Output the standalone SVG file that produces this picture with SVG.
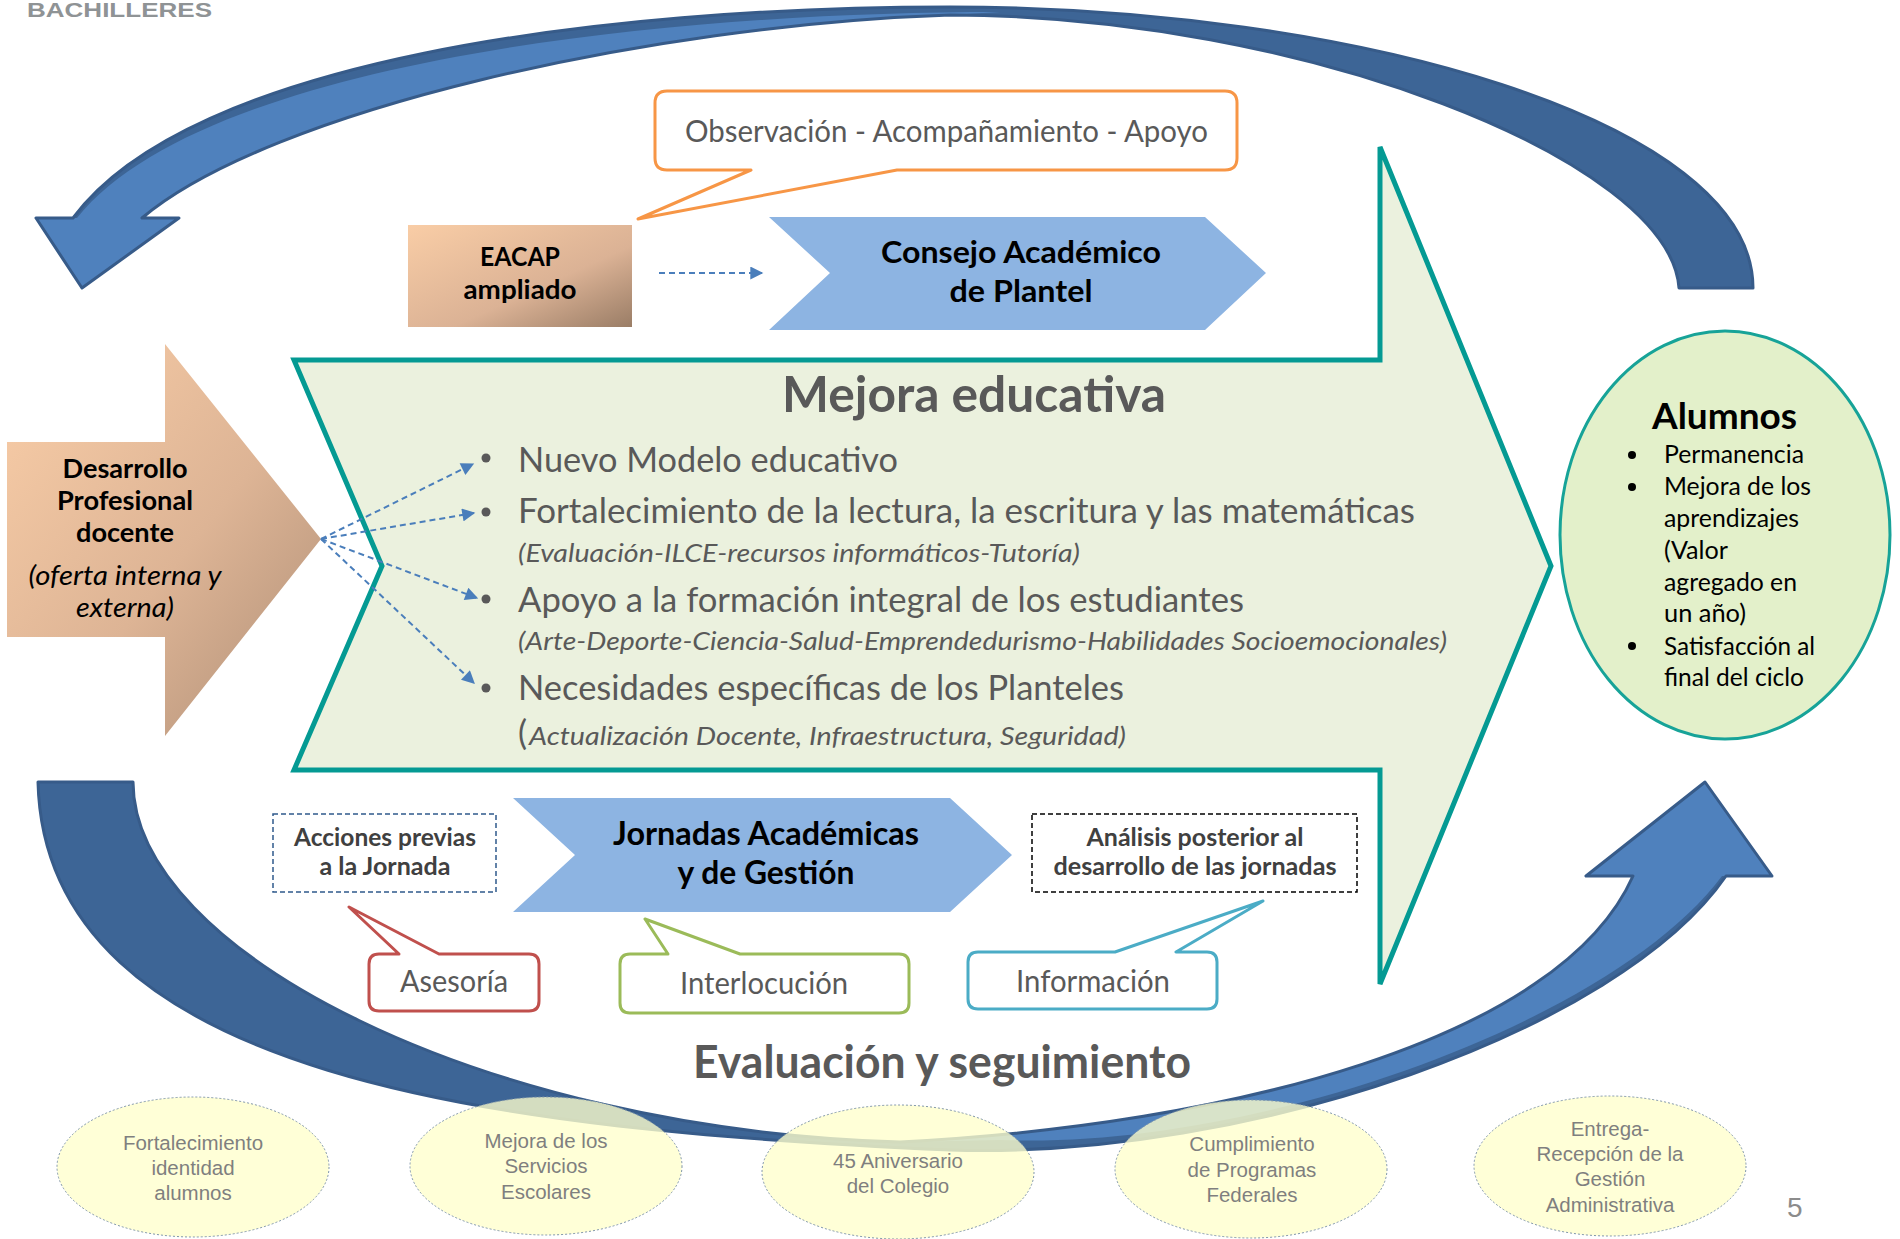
<svg xmlns="http://www.w3.org/2000/svg" width="1900" height="1239" viewBox="0 0 1900 1239">
<defs>
<linearGradient id="gPeach" x1="0" y1="0" x2="1" y2="1">
<stop offset="0" stop-color="#FACEA8"/><stop offset="0.55" stop-color="#DDB495"/><stop offset="1" stop-color="#AE8E76"/>
</linearGradient>
<linearGradient id="gEacap" x1="0" y1="0" x2="1" y2="1">
<stop offset="0" stop-color="#F9CDA6"/><stop offset="0.6" stop-color="#DBB295"/><stop offset="1" stop-color="#9A7D66"/>
</linearGradient>
<marker id="ah" viewBox="0 0 10 10" refX="9" refY="5" markerUnits="userSpaceOnUse" markerWidth="14" markerHeight="13" orient="auto"><path d="M0,0 L10,5 L0,10 Z" fill="#4A7EBB"/></marker>
<style>
.cal{font-family:Lato,'Open Sans','Liberation Sans',sans-serif}
.b{font-weight:bold}
.it{font-style:italic}
.g{fill:#595959}
.k{fill:#000}
.dg{fill:#404040}
.mid{text-anchor:middle}
.ell{fill:#FFFFCC;fill-opacity:0.78;stroke:#8096AA;stroke-width:1;stroke-dasharray:2 2}
.et{font-family:'Liberation Sans',Arial,sans-serif;font-size:20.5px;fill:#7F7F7F;text-anchor:middle}
.call{fill:#fff;stroke-width:3;stroke-linejoin:round}
.dash{fill:none;stroke:#4A7EBB;stroke-width:2;stroke-dasharray:6 4}
.chev{fill:#8DB4E2}
.dk{fill:#3D6596;stroke:none}
.lt{fill:#4F81BD;stroke:none}
.ol{fill:none;stroke:#375B89;stroke-width:3;stroke-linejoin:round}
</style>
</defs>
<rect width="1900" height="1239" fill="#fff"/>

<text x="27" y="17" font-family="'Liberation Sans',Arial,sans-serif" font-weight="bold" font-size="21" fill="#8F9395" textLength="185" lengthAdjust="spacingAndGlyphs">BACHILLERES</text>

<g id="arc-top">
<path class="dk" d="M73,218 C190,60 600,7 950,7 C1350,7 1753,120 1753,288 L1679,288 C1670,160 1300,15 950,15 C650,25 270,110 142,218 L179,218 L82,288 L36,218 Z"/>
<path class="lt" d="M142,218 L179,218 L82,288 L36,218 L77,218 C200,64 650,12 1000,12 L950,15 C650,25 270,110 142,218 Z"/>
<path class="ol" d="M73,218 C190,60 600,7 950,7 C1350,7 1753,120 1753,288 L1679,288 C1670,160 1300,15 950,15 C650,25 270,110 142,218 L179,218 L82,288 L36,218 Z"/>
</g>

<g id="arc-bottom">
<path class="dk" d="M133,782 L38,782 C45,1080 500,1130 950,1150 C1250,1160 1620,1030 1726,876 L1772,876 L1705,782 L1586,876 L1633,876 C1560,1040 1230,1125 900,1142 C480,1130 133,950 133,782 Z"/>
<path class="lt" d="M1633,876 L1586,876 L1705,782 L1772,876 L1722,876 C1615,1020 1260,1150 1000,1140 L900,1142 C1230,1125 1560,1040 1633,876 Z"/>
<path class="ol" d="M133,782 L38,782 C45,1080 500,1130 950,1150 C1250,1160 1620,1030 1726,876 L1772,876 L1705,782 L1586,876 L1633,876 C1560,1040 1230,1125 900,1142 C480,1130 133,950 133,782 Z"/>
</g>

<g id="mejora">
<polygon points="294,360 1380,360 1380,147 1551,566 1380,984 1380,770 294,770 382,566" fill="#EBF1DE" stroke="#049A93" stroke-width="5" stroke-linejoin="miter"/>
<text class="cal b g mid" x="974" y="412" font-size="50" textLength="384" lengthAdjust="spacingAndGlyphs">Mejora educativa</text>
<circle cx="486" cy="458" r="4.5" fill="#595959"/>
<circle cx="486" cy="512" r="4.5" fill="#595959"/>
<circle cx="486" cy="599" r="4.5" fill="#595959"/>
<circle cx="486" cy="688" r="4.5" fill="#595959"/>
<text class="cal g" x="518" y="472" font-size="34" textLength="380" lengthAdjust="spacingAndGlyphs">Nuevo Modelo educativo</text>
<text class="cal g" x="518" y="523" font-size="34" textLength="897" lengthAdjust="spacingAndGlyphs">Fortalecimiento de la lectura, la escritura y las matemáticas</text>
<text class="cal g it" x="518" y="562" font-size="25" textLength="562" lengthAdjust="spacingAndGlyphs">(Evaluación-ILCE-recursos informáticos-Tutoría)</text>
<text class="cal g" x="518" y="612" font-size="34" textLength="726" lengthAdjust="spacingAndGlyphs">Apoyo a la formación integral de los estudiantes</text>
<text class="cal g it" x="518" y="650" font-size="25" textLength="929" lengthAdjust="spacingAndGlyphs">(Arte-Deporte-Ciencia-Salud-Emprendedurismo-Habilidades Socioemocionales)</text>
<text class="cal g" x="518" y="700" font-size="34" textLength="606" lengthAdjust="spacingAndGlyphs">Necesidades específicas de los Planteles</text>
<text class="cal g" x="518" y="745" font-size="34">(</text>
<text class="cal g it" x="529" y="745" font-size="25" textLength="597" lengthAdjust="spacingAndGlyphs">Actualización Docente, Infraestructura, Seguridad)</text>
</g>

<g id="desarrollo">
<path d="M7,442 L165,442 L165,344 L321,539 L165,736 L165,637 L7,637 Z" fill="url(#gPeach)"/>
<text class="cal b k mid" x="125" y="478" font-size="27" textLength="125" lengthAdjust="spacingAndGlyphs">Desarrollo</text>
<text class="cal b k mid" x="125" y="510" font-size="27" textLength="136" lengthAdjust="spacingAndGlyphs">Profesional</text>
<text class="cal b k mid" x="125" y="542" font-size="27" textLength="98" lengthAdjust="spacingAndGlyphs">docente</text>
<text class="cal it k mid" x="125" y="585" font-size="27" textLength="193" lengthAdjust="spacingAndGlyphs">(oferta interna y</text>
<text class="cal it k mid" x="125" y="617" font-size="27" textLength="98" lengthAdjust="spacingAndGlyphs">externa)</text>
</g>

<g id="observacion">
<path class="call" stroke="#F79646" d="M667,91 H1225 Q1237,91 1237,103 V158 Q1237,170 1225,170 H897 L638,219 L751,170 H667 Q655,170 655,158 V103 Q655,91 667,91 Z"/>
<text class="cal g" x="685" y="142" font-size="31" textLength="523" lengthAdjust="spacingAndGlyphs">Observación - Acompañamiento - Apoyo</text>
</g>

<g id="eacap">
<rect x="408" y="225" width="224" height="102" fill="url(#gEacap)"/>
<text class="cal b k mid" x="520" y="266" font-size="26" textLength="80" lengthAdjust="spacingAndGlyphs">EACAP</text>
<text class="cal b k mid" x="520" y="299" font-size="26" textLength="113" lengthAdjust="spacingAndGlyphs">ampliado</text>
</g>

<g id="consejo">
<polygon class="chev" points="769,217 1205,217 1266,273 1205,330 769,330 830,273"/>
<text class="cal b k mid" x="1021" y="263" font-size="31" textLength="280" lengthAdjust="spacingAndGlyphs">Consejo Académico</text>
<text class="cal b k mid" x="1021" y="302" font-size="31" textLength="143" lengthAdjust="spacingAndGlyphs">de Plantel</text>
</g>

<g id="acciones">
<rect x="273" y="814" width="223" height="78" fill="#fff" stroke="#2F5A8C" stroke-width="1.5" stroke-dasharray="5 3"/>
<text class="cal b dg mid" x="385" y="846" font-size="24" textLength="182" lengthAdjust="spacingAndGlyphs">Acciones previas</text>
<text class="cal b dg mid" x="385" y="875" font-size="24" textLength="131" lengthAdjust="spacingAndGlyphs">a la Jornada</text>
</g>

<g id="jornadas">
<polygon class="chev" points="513,798 950,798 1012,855 950,912 513,912 575,855"/>
<text class="cal b k mid" x="766" y="845" font-size="32" textLength="306" lengthAdjust="spacingAndGlyphs">Jornadas Académicas</text>
<text class="cal b k mid" x="766" y="884" font-size="32" textLength="177" lengthAdjust="spacingAndGlyphs">y de Gestión</text>
</g>

<g id="analisis">
<rect x="1032" y="814" width="325" height="78" fill="#fff" stroke="#000" stroke-width="1.5" stroke-dasharray="5 3"/>
<text class="cal b dg mid" x="1195" y="846" font-size="24" textLength="217" lengthAdjust="spacingAndGlyphs">Análisis posterior al</text>
<text class="cal b dg mid" x="1195" y="875" font-size="24" textLength="283" lengthAdjust="spacingAndGlyphs">desarrollo de las jornadas</text>
</g>

<g id="asesoria">
<path class="call" stroke="#C0504D" d="M379,954 H399 L349,907 L439,954 H529 Q539,954 539,964 V1001 Q539,1011 529,1011 H379 Q369,1011 369,1001 V964 Q369,954 379,954 Z"/>
<text class="cal g mid" x="454" y="992" font-size="30" textLength="108" lengthAdjust="spacingAndGlyphs">Asesoría</text>
</g>

<g id="interlocucion">
<path class="call" stroke="#9BBB59" d="M630,954 H668 L645,919 L740,954 H899 Q909,954 909,964 V1003 Q909,1013 899,1013 H630 Q620,1013 620,1003 V964 Q620,954 630,954 Z"/>
<text class="cal g mid" x="764" y="994" font-size="30" textLength="168" lengthAdjust="spacingAndGlyphs">Interlocución</text>
</g>

<g id="informacion">
<path class="call" stroke="#4BACC6" d="M978,952 H1115 L1263,901 L1176,952 H1207 Q1217,952 1217,962 V999 Q1217,1009 1207,1009 H978 Q968,1009 968,999 V962 Q968,952 978,952 Z"/>
<text class="cal g mid" x="1093" y="992" font-size="30" textLength="154" lengthAdjust="spacingAndGlyphs">Información</text>
</g>

<g id="alumnos">
<ellipse cx="1725" cy="535" rx="165" ry="204" fill="#E3F0CA" stroke="#17A398" stroke-width="3"/>
<text class="cal b k" x="1652" y="429" font-size="36" textLength="145" lengthAdjust="spacingAndGlyphs">Alumnos</text>
<circle cx="1632" cy="455" r="4" fill="#000"/>
<circle cx="1632" cy="487" r="4" fill="#000"/>
<circle cx="1632" cy="646" r="4" fill="#000"/>
<text class="cal k" x="1664" y="463" font-size="25" textLength="140" lengthAdjust="spacingAndGlyphs">Permanencia</text>
<text class="cal k" x="1664" y="495" font-size="25" textLength="147" lengthAdjust="spacingAndGlyphs">Mejora de los</text>
<text class="cal k" x="1664" y="527" font-size="25" textLength="135" lengthAdjust="spacingAndGlyphs">aprendizajes</text>
<text class="cal k" x="1664" y="559" font-size="25" textLength="64" lengthAdjust="spacingAndGlyphs">(Valor</text>
<text class="cal k" x="1664" y="591" font-size="25" textLength="133" lengthAdjust="spacingAndGlyphs">agregado en</text>
<text class="cal k" x="1664" y="622" font-size="25" textLength="82" lengthAdjust="spacingAndGlyphs">un año)</text>
<text class="cal k" x="1664" y="655" font-size="25" textLength="151" lengthAdjust="spacingAndGlyphs">Satisfacción al</text>
<text class="cal k" x="1664" y="686" font-size="25" textLength="140" lengthAdjust="spacingAndGlyphs">final del ciclo</text>
</g>

<text class="cal b g" x="693" y="1078" font-size="45" textLength="498" lengthAdjust="spacingAndGlyphs">Evaluación y seguimiento</text>

<g id="e1">
<ellipse class="ell" cx="193" cy="1167" rx="136" ry="70"/>
<text class="et" x="193" y="1150">Fortalecimiento</text>
<text class="et" x="193" y="1175">identidad</text>
<text class="et" x="193" y="1200">alumnos</text>
</g>
<g id="e2">
<ellipse class="ell" cx="546" cy="1166" rx="136" ry="69"/>
<text class="et" x="546" y="1148">Mejora de los</text>
<text class="et" x="546" y="1173">Servicios</text>
<text class="et" x="546" y="1199">Escolares</text>
</g>
<g id="e3">
<ellipse class="ell" cx="898" cy="1172" rx="136" ry="67"/>
<text class="et" x="898" y="1168">45 Aniversario</text>
<text class="et" x="898" y="1193">del Colegio</text>
</g>
<g id="e4">
<ellipse class="ell" cx="1251" cy="1169" rx="136" ry="69"/>
<text class="et" x="1252" y="1151">Cumplimiento</text>
<text class="et" x="1252" y="1177">de Programas</text>
<text class="et" x="1252" y="1202">Federales</text>
</g>
<g id="e5">
<ellipse class="ell" cx="1610" cy="1166" rx="136" ry="70"/>
<text class="et" x="1610" y="1136">Entrega-</text>
<text class="et" x="1610" y="1161">Recepción de la</text>
<text class="et" x="1610" y="1186">Gestión</text>
<text class="et" x="1610" y="1212">Administrativa</text>
</g>

<g id="connectors">
<line class="dash" x1="659" y1="273" x2="762" y2="273" marker-end="url(#ah)"/>
<line class="dash" x1="321" y1="539" x2="473" y2="464" marker-end="url(#ah)"/>
<line class="dash" x1="321" y1="539" x2="474" y2="513" marker-end="url(#ah)"/>
<line class="dash" x1="321" y1="539" x2="477" y2="598" marker-end="url(#ah)"/>
<line class="dash" x1="321" y1="539" x2="474" y2="683" marker-end="url(#ah)"/>
</g>

<text x="1787" y="1217" font-family="'Liberation Sans',Arial,sans-serif" font-size="28" fill="#8C8C8C">5</text>
</svg>
